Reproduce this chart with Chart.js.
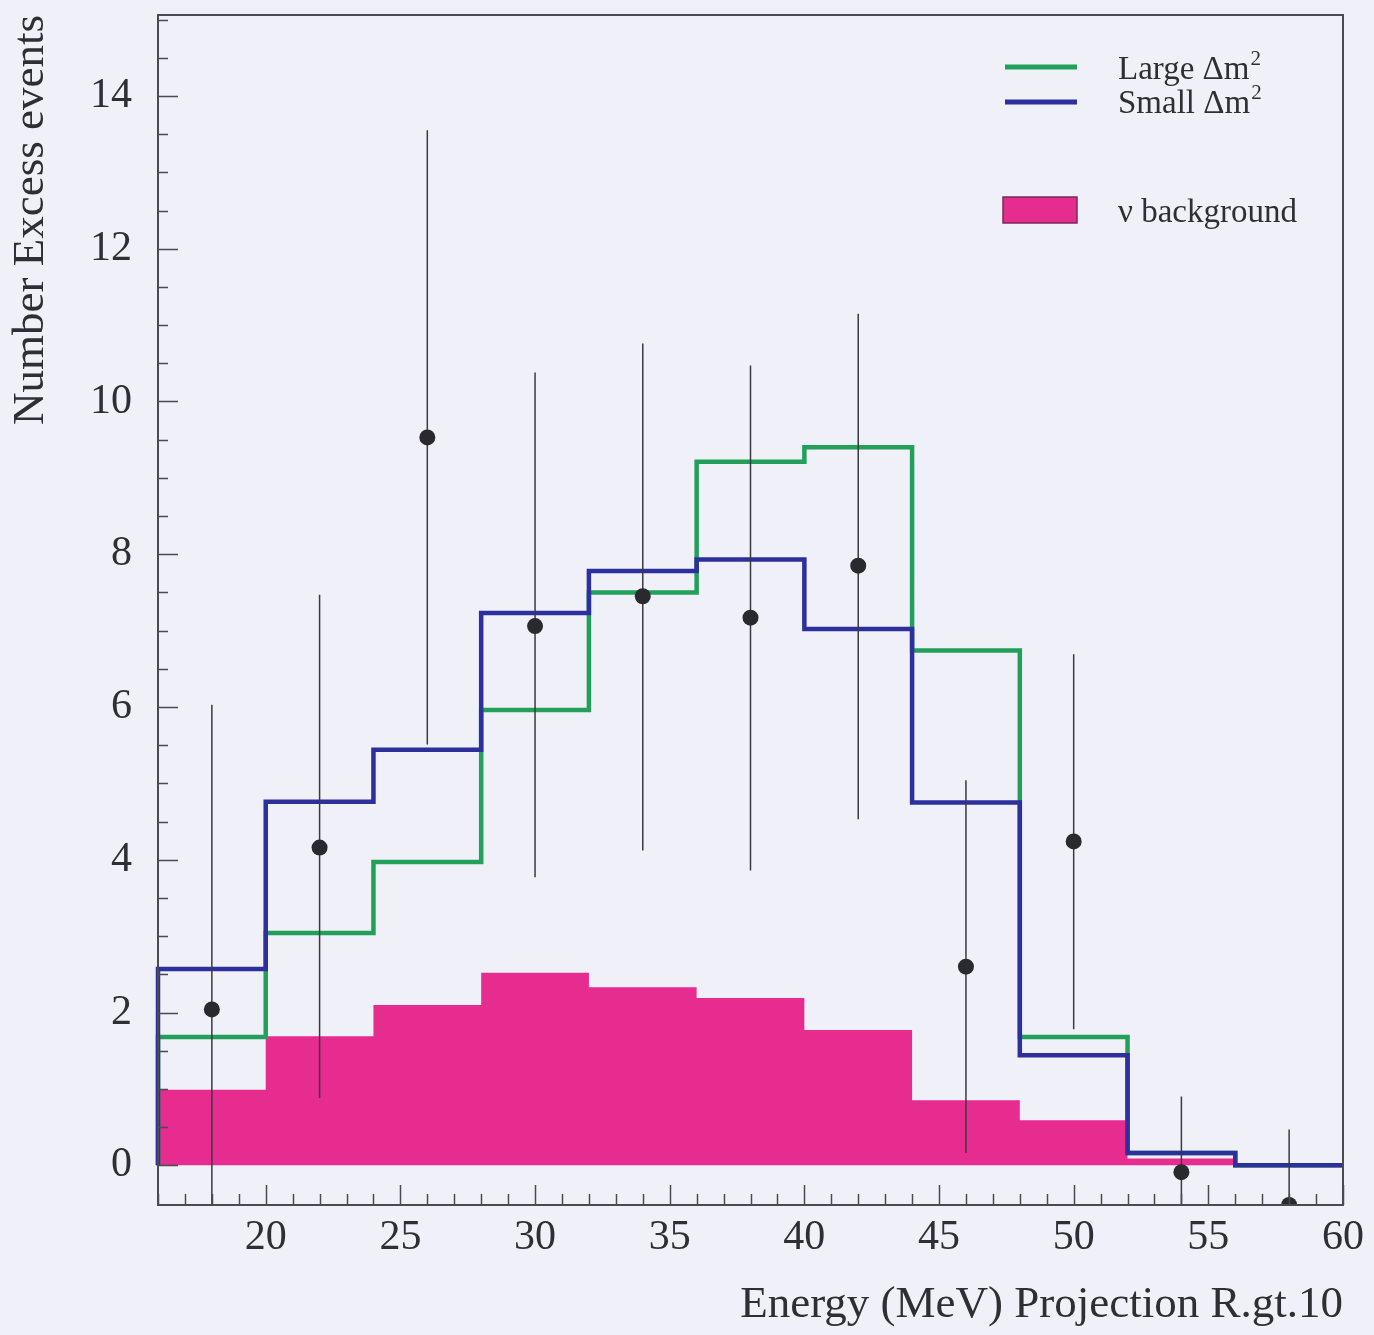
<!DOCTYPE html>
<html>
<head>
<meta charset="utf-8">
<script src="https://cdn.jsdelivr.net/npm/chart.js@4.4.1/dist/chart.umd.min.js"></script>
<style>
    html, body { margin: 0; padding: 0; background: #eff0f8; }
    #chart-wrap { width: 1374px; height: 1335px; position: relative; }
</style>
</head>
<body>
<div id="chart-wrap"><canvas id="excess-chart"></canvas></div>
<script>
// histogram bins (MeV), 4 MeV wide
const bin_edges = [16, 20, 24, 28, 32, 36, 40, 44, 48, 52, 56, 60];
const large_dm2_values = [1.68, 3.04, 3.97, 5.96, 7.50, 9.21, 9.40, 6.74, 1.68, 0.16, 0.0];
const small_dm2_values = [2.57, 4.76, 5.44, 7.23, 7.78, 7.93, 7.02, 4.75, 1.44, 0.16, 0.0];
const nu_background_values = [0.99, 1.69, 2.10, 2.52, 2.33, 2.19, 1.77, 0.85, 0.59, 0.09];

// data points with error bars
const data_energy = [18, 22, 26, 30, 34, 38, 42, 46, 50, 54, 58];
const data_excess = [2.04, 4.16, 9.53, 7.06, 7.45, 7.17, 7.85, 2.60, 4.24, -0.09, -0.52];
const data_error_low = [-1.94, 0.88, 5.51, 3.77, 4.12, 3.86, 4.53, 0.16, 1.78, -1.07, -1.52];
const data_error_high = [6.03, 7.47, 13.55, 10.38, 10.76, 10.47, 11.15, 5.04, 6.69, 0.90, 0.47];

const x_tick_labels = [20, 25, 30, 35, 40, 45, 50, 55, 60];
const y_tick_labels = [0, 2, 4, 6, 8, 10, 12, 14];
const legend_labels = ['Large \u0394m', 'Small \u0394m', '\u03bd background'];

const serif_font = '"Liberation Serif", "DejaVu Serif", serif';
const text_color = '#2f2f33';
const green_color = '#22a05a';
const blue_color = '#2c2f9c';
const magenta_color = '#e62d8f';

const histogram_points = (values) => {
    const points = [{ x: bin_edges[0], y: 0 }];
    values.forEach((value, i) => points.push({ x: bin_edges[i], y: value }));
    points.push({ x: bin_edges[values.length], y: values[values.length - 1] });
    return points;
};

const error_bar_points = [];
data_energy.forEach((energy, i) => {
    error_bar_points.push({ x: energy, y: data_error_low[i] });
    error_bar_points.push({ x: energy, y: data_error_high[i] });
    error_bar_points.push({ x: energy, y: null });
});

const frame_ticks_plugin = {
    id: 'frameTicks',
    afterDraw(chart) {
        const { ctx, chartArea, scales } = chart;
        ctx.save();
        ctx.strokeStyle = '#4a4a50';
        ctx.lineWidth = 2;
        ctx.strokeRect(chartArea.left, chartArea.top, chartArea.right - chartArea.left, chartArea.bottom - chartArea.top);

        ctx.lineWidth = 1.5;
        ctx.beginPath();
        for (let v = 0; v <= 15; v += 0.5) {
            const y = Math.round(scales.y.getPixelForValue(v)) + 0.5;
            const len = v % 2 === 0 ? 20 : 10;
            ctx.moveTo(chartArea.left, y);
            ctx.lineTo(chartArea.left + len, y);
        }
        for (let v = 16; v <= 60; v += 1) {
            const x = Math.round(scales.x.getPixelForValue(v)) + 0.5;
            const len = v % 5 === 0 ? 20 : 11;
            ctx.moveTo(x, chartArea.bottom);
            ctx.lineTo(x, chartArea.bottom - len);
        }
        ctx.stroke();
        ctx.restore();
    }
};

const legend_plugin = {
    id: 'histLegend',
    afterDraw(chart) {
        const { ctx, chartArea } = chart;
        const sample_left = chartArea.right - 338;
        const sample_right = chartArea.right - 266;
        const text_left = chartArea.right - 225;
        const top = chartArea.top;
        ctx.save();
        ctx.lineWidth = 5;
        ctx.lineCap = 'butt';
        ctx.strokeStyle = green_color;
        ctx.beginPath();
        ctx.moveTo(sample_left, top + 52);
        ctx.lineTo(sample_right, top + 52);
        ctx.stroke();
        ctx.strokeStyle = blue_color;
        ctx.beginPath();
        ctx.moveTo(sample_left, top + 87);
        ctx.lineTo(sample_right, top + 87);
        ctx.stroke();

        ctx.fillStyle = magenta_color;
        ctx.fillRect(sample_left - 2, top + 182, 74, 26);
        ctx.lineWidth = 1.5;
        ctx.strokeStyle = '#7a2a55';
        ctx.strokeRect(sample_left - 2, top + 182, 74, 26);

        ctx.fillStyle = text_color;
        ctx.textBaseline = 'alphabetic';
        ctx.textAlign = 'left';
        const rows = [[legend_labels[0], top + 64, true], [legend_labels[1], top + 98, true], [legend_labels[2], top + 207, false]];
        rows.forEach(([label, baseline, squared]) => {
            ctx.font = '33px ' + serif_font;
            ctx.fillText(label, text_left, baseline);
            if (squared) {
                const w = ctx.measureText(label).width;
                ctx.font = '21px ' + serif_font;
                ctx.fillText('2', text_left + w + 1, baseline - 14);
            }
        });
        ctx.restore();
    }
};

const excess_chart = new Chart(document.getElementById('excess-chart'), {
    type: 'line',
    data: {
        datasets: [
            {
                label: 'data',
                data: data_energy.map((energy, i) => ({ x: energy, y: data_excess[i] })),
                showLine: false,
                pointRadius: 8,
                pointBackgroundColor: '#2a2a2e',
                pointBorderColor: '#2a2a2e',
                pointBorderWidth: 0,
                order: 1
            },
            {
                label: 'errors',
                data: error_bar_points,
                borderColor: '#3a3a40',
                borderWidth: 1.5,
                pointRadius: 0,
                spanGaps: false,
                order: 2
            },
            {
                label: legend_labels[1],
                data: histogram_points(small_dm2_values),
                stepped: true,
                borderColor: blue_color,
                borderWidth: 4.5,
                pointRadius: 0,
                fill: false,
                clip: { left: 3, top: 0, right: 3, bottom: 0 },
                order: 3
            },
            {
                label: legend_labels[0],
                data: histogram_points(large_dm2_values),
                stepped: true,
                borderColor: green_color,
                borderWidth: 4.5,
                pointRadius: 0,
                fill: false,
                clip: { left: 3, top: 0, right: 3, bottom: 0 },
                order: 4
            },
            {
                label: legend_labels[2],
                data: histogram_points(nu_background_values),
                stepped: true,
                borderColor: magenta_color,
                borderWidth: 0,
                backgroundColor: magenta_color,
                pointRadius: 0,
                fill: 'origin',
                order: 5
            }
        ]
    },
    options: {
        responsive: true,
        maintainAspectRatio: false,
        animation: false,
        layout: {
            padding: { left: 0, top: 15, right: 31, bottom: 0 }
        },
        plugins: {
            legend: { display: false },
            tooltip: { enabled: false }
        },
        scales: {
            x: {
                type: 'linear',
                min: 16,
                max: 60,
                afterBuildTicks: (scale) => {
                    scale.ticks = x_tick_labels.map((v) => ({ value: v }));
                },
                afterFit: (scale) => {
                    scale.height = 130;
                    scale.paddingLeft = 0;
                    scale.paddingRight = 0;
                },
                grid: { display: false, drawTicks: false },
                border: { display: false },
                ticks: {
                    font: { family: serif_font, size: 42 },
                    color: text_color,
                    padding: 8,
                    maxRotation: 0
                },
                title: {
                    display: true,
                    text: 'Energy (MeV) Projection R.gt.10',
                    align: 'end',
                    color: text_color,
                    font: { family: serif_font, size: 45 },
                    padding: { top: 0, bottom: 3 }
                }
            },
            y: {
                type: 'linear',
                min: -0.52,
                max: 15.06,
                afterBuildTicks: (scale) => {
                    scale.ticks = y_tick_labels.map((v) => ({ value: v }));
                },
                afterFit: (scale) => {
                    scale.width = 158;
                    scale.paddingTop = 0;
                    scale.paddingBottom = 0;
                },
                grid: { display: false, drawTicks: false },
                border: { display: false },
                ticks: {
                    font: { family: serif_font, size: 42 },
                    color: text_color,
                    padding: 26
                },
                title: {
                    display: true,
                    text: 'Number Excess events',
                    align: 'end',
                    color: text_color,
                    font: { family: serif_font, size: 45 },
                    padding: { top: 4, bottom: 0 }
                }
            }
        }
    },
    plugins: [frame_ticks_plugin, legend_plugin]
});
</script>
</body>
</html>
